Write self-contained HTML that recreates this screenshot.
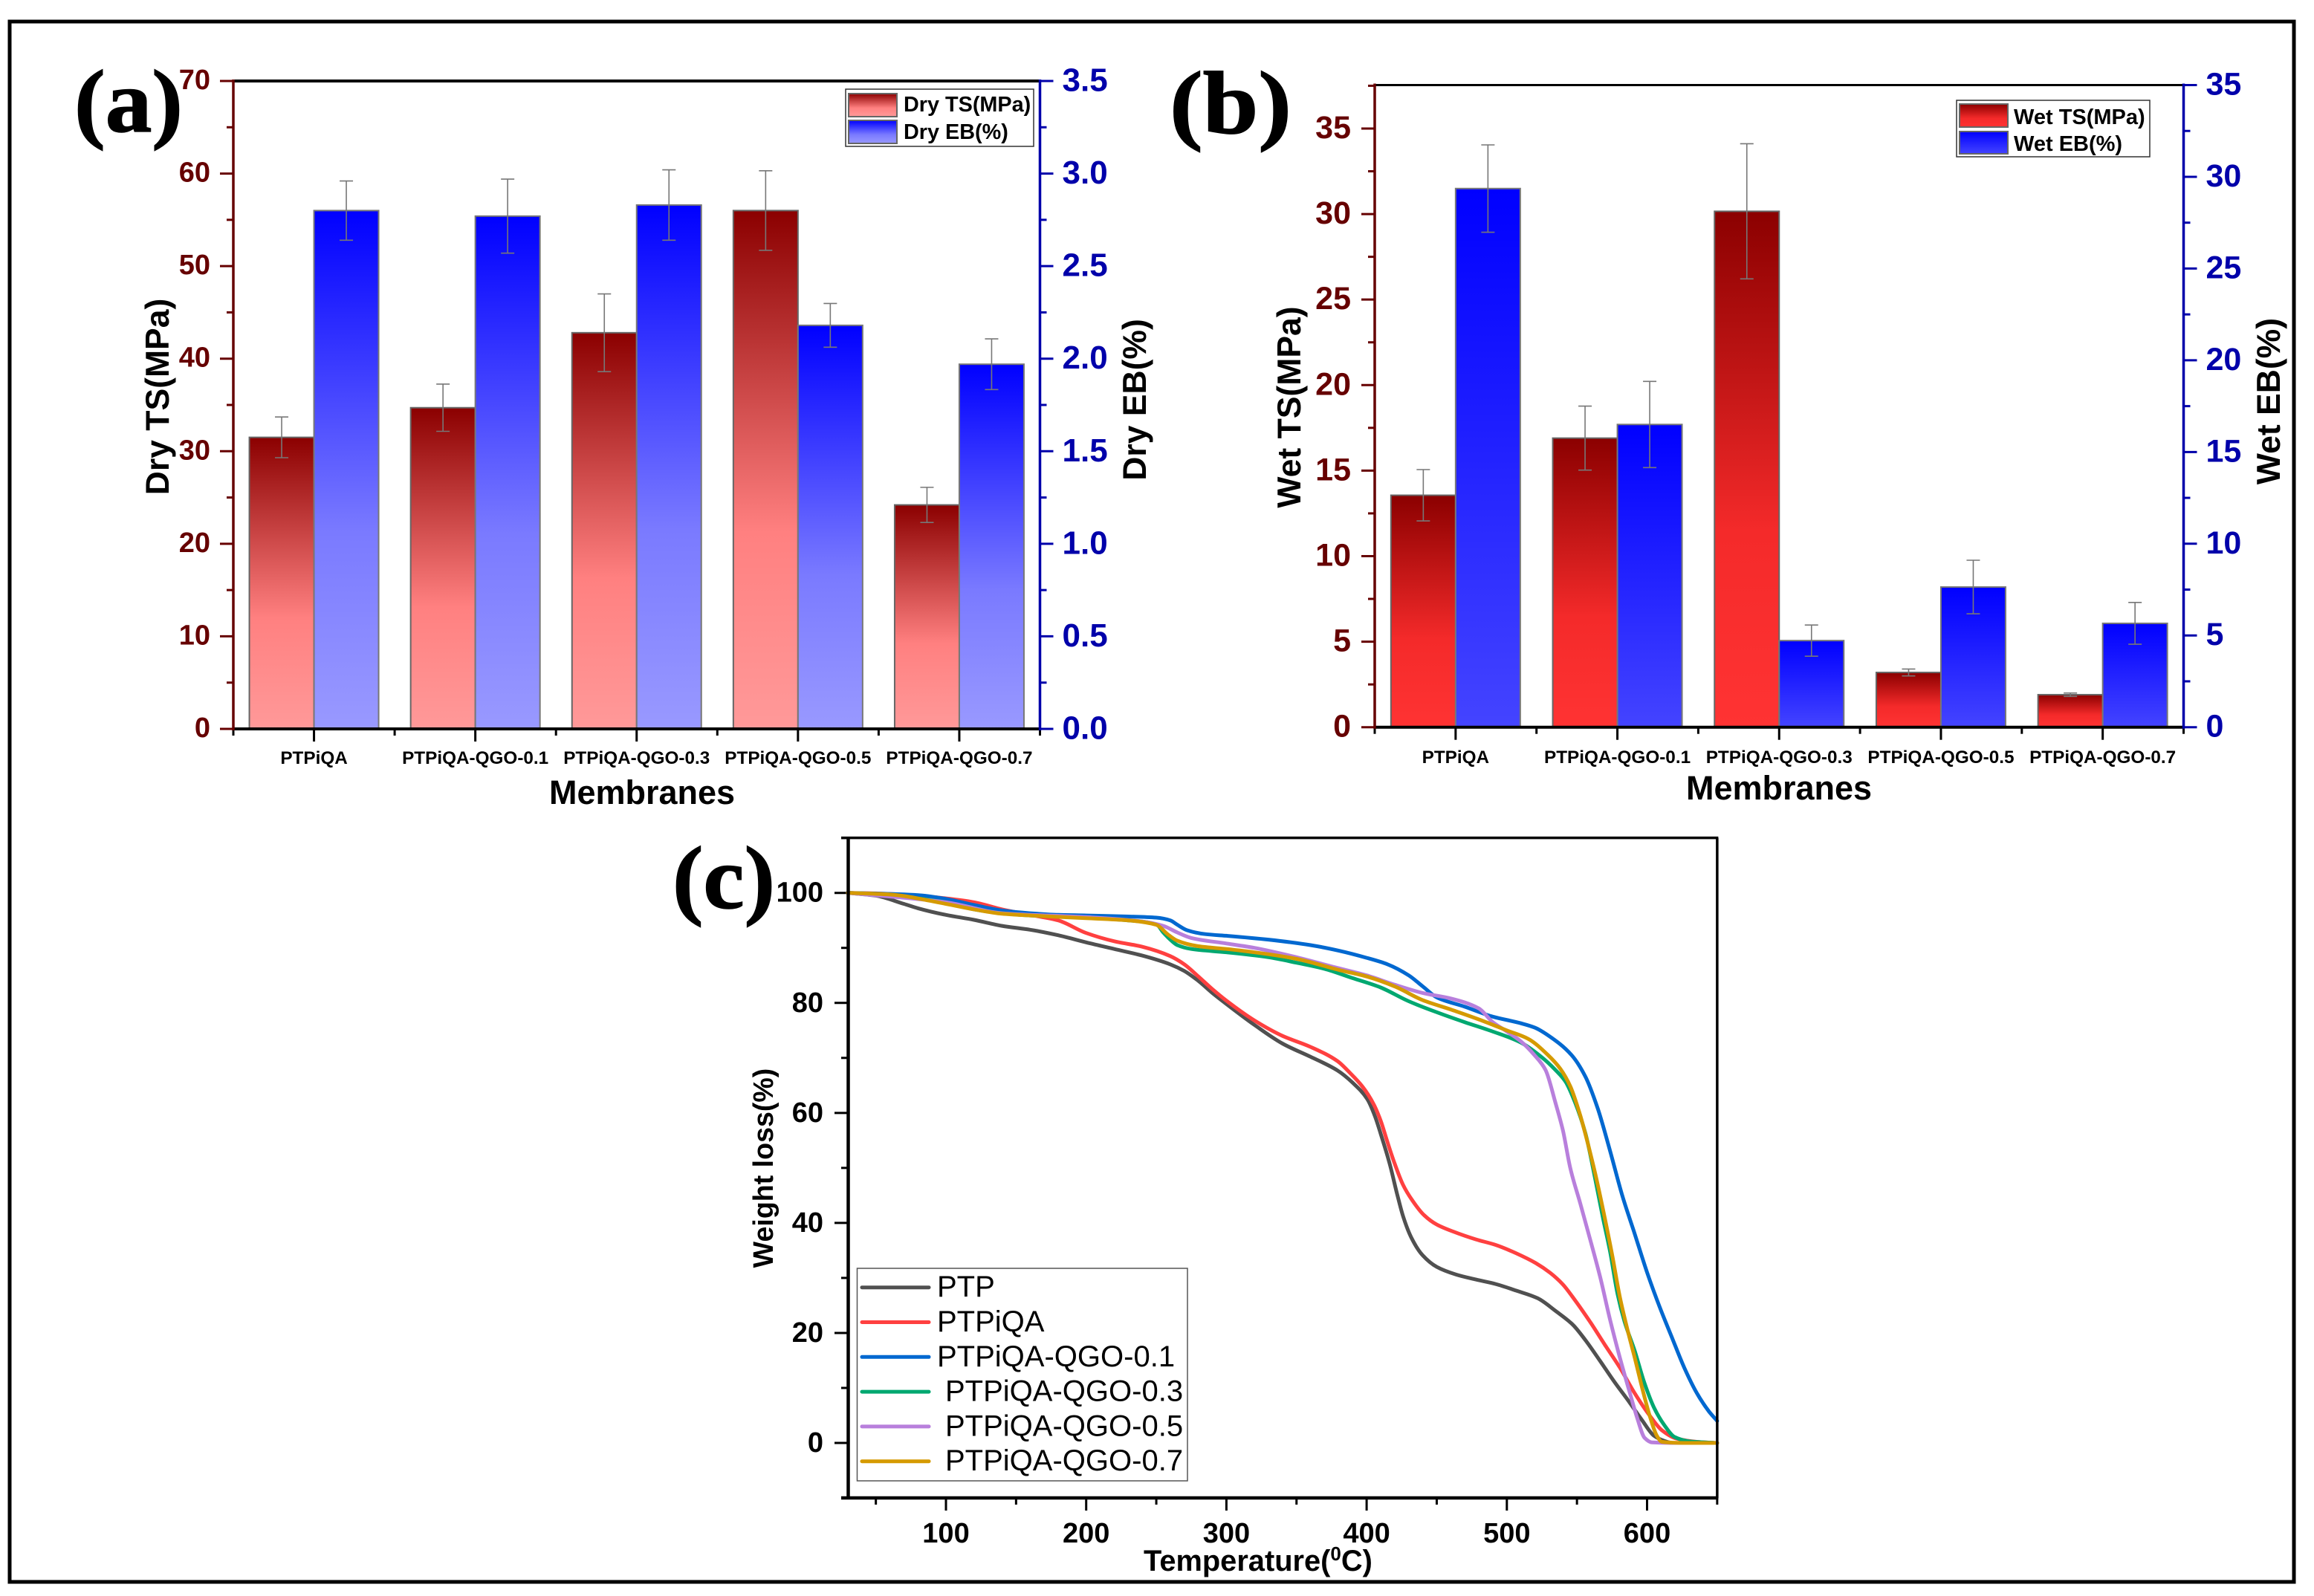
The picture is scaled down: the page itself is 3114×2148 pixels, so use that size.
<!DOCTYPE html>
<html lang="en">
<head>
<meta charset="utf-8">
<title>Membrane mechanical and thermal properties</title>
<style>
html,body{margin:0;padding:0;background:#fff;width:3114px;height:2148px;overflow:hidden}
svg{display:block}
text{font-family:"Liberation Sans",sans-serif}
.serif{font-family:"Liberation Serif",serif;font-weight:bold;font-size:120px;fill:#000;stroke:#000;stroke-width:1.5px}
.title{font-weight:bold;font-size:44.5px;fill:#000}
.leg{font-weight:bold;font-size:28.8px;fill:#000}
.legc{font-size:40px;fill:#000}
</style>
</head>
<body>
<svg id="figure" xmlns="http://www.w3.org/2000/svg" width="3114" height="2148" viewBox="0 0 3114 2148">
<defs>
<linearGradient id="gDryTs" x1="0" y1="0" x2="0" y2="1"><stop offset="0" stop-color="#8b0000"/><stop offset="0.62" stop-color="#ff8080"/><stop offset="1" stop-color="#ff9999"/></linearGradient>
<linearGradient id="gDryEb" x1="0" y1="0" x2="0" y2="1"><stop offset="0" stop-color="#0000ff"/><stop offset="0.62" stop-color="#7a7aff"/><stop offset="1" stop-color="#9999ff"/></linearGradient>
<linearGradient id="gWetTs" x1="0" y1="0" x2="0" y2="1"><stop offset="0" stop-color="#8b0000"/><stop offset="0.62" stop-color="#f42a2a"/><stop offset="1" stop-color="#ff3333"/></linearGradient>
<linearGradient id="gWetEb" x1="0" y1="0" x2="0" y2="1"><stop offset="0" stop-color="#0000ff"/><stop offset="1" stop-color="#4444ff"/></linearGradient>
</defs>
<rect x="13" y="29" width="3074" height="2100" fill="#fff" stroke="#000" stroke-width="5"/>

<text class="serif" x="100" y="177" textLength="146" lengthAdjust="spacingAndGlyphs">(a)</text>
<text class="serif" x="1574" y="179" textLength="164" lengthAdjust="spacingAndGlyphs">(b)</text>
<text class="serif" x="905" y="1222" textLength="138" lengthAdjust="spacingAndGlyphs">(c)</text>

<g id="panelA"></g>
<g id="panelB"></g>
<g id="panelC"></g>

<text class="title" text-anchor="middle" transform="translate(227 534) rotate(-90)">Dry TS(MPa)</text>
<text class="title" text-anchor="middle" transform="translate(1542 538) rotate(-90)">Dry EB(%)</text>
<text class="title" text-anchor="middle" x="864" y="1082" style="font-size:45px">Membranes</text>
<text class="title" text-anchor="middle" transform="translate(1750 548) rotate(-90)">Wet TS(MPa)</text>
<text class="title" text-anchor="middle" transform="translate(3068 540) rotate(-90)">Wet EB(%)</text>
<text class="title" text-anchor="middle" x="2394" y="1076" style="font-size:45px">Membranes</text>
<text class="title" text-anchor="middle" transform="translate(1040 1572) rotate(-90)" style="font-size:37.6px">Weight loss(%)</text>
<text class="title" x="1539" y="2114" style="font-size:39.8px">Temperature(<tspan font-size="26" dy="-14">0</tspan><tspan dy="14">C)</tspan></text>

<g>
<rect x="1138" y="120" width="253" height="77" fill="#fff" stroke="#333" stroke-width="1.5"/>
<rect x="1142" y="126" width="65" height="31" fill="url(#gDryTs)" stroke="#666" stroke-width="2"/>
<rect x="1142" y="162" width="65" height="31" fill="url(#gDryEb)" stroke="#666" stroke-width="2"/>
<text class="leg" x="1216" y="150">Dry TS(MPa)</text>
<text class="leg" x="1216" y="187">Dry EB(%)</text>
</g>
<g>
<rect x="2633" y="135" width="260" height="76" fill="#fff" stroke="#333" stroke-width="1.5"/>
<rect x="2637" y="140" width="65" height="31" fill="url(#gWetTs)" stroke="#666" stroke-width="2"/>
<rect x="2637" y="177" width="65" height="30" fill="url(#gWetEb)" stroke="#666" stroke-width="2"/>
<text class="leg" x="2710" y="167" style="font-size:29px">Wet TS(MPa)</text>
<text class="leg" x="2710" y="203" style="font-size:29px">Wet EB(%)</text>
</g>
<g id="legendC"></g>
</svg>

<script>
// ---- Panel (a) and (b) data ----
const membranes = ['PTPiQA', 'PTPiQA-QGO-0.1', 'PTPiQA-QGO-0.3', 'PTPiQA-QGO-0.5', 'PTPiQA-QGO-0.7'];
const dryTs = [31.5, 34.7, 42.8, 56, 24.2];
const dryTsErr = [2.2, 2.55, 4.2, 4.3, 1.9];
const dryEb = [2.8, 2.77, 2.83, 2.18, 1.97];
const dryEbErr = [0.16, 0.2, 0.19, 0.118, 0.137];
const dryTsTicks = ['0', '10', '20', '30', '40', '50', '60', '70'];
const dryEbTicks = ['0.0', '0.5', '1.0', '1.5', '2.0', '2.5', '3.0', '3.5'];
const wetTs = [13.56, 16.9, 30.16, 3.2, 1.9];
const wetTsErr = [1.5, 1.87, 3.95, 0.2, 0.1];
const wetEb = [29.36, 16.5, 4.72, 7.64, 5.66];
const wetEbErr = [2.38, 2.35, 0.85, 1.46, 1.14];
const wetTsTicks = ['0', '5', '10', '15', '20', '25', '30', '35'];
const wetEbTicks = ['0', '5', '10', '15', '20', '25', '30', '35'];

// ---- Panel (c) data ----
const tgaTempTicks = ['100', '200', '300', '400', '500', '600'];
const tgaWeightTicks = ['0', '20', '40', '60', '80', '100'];
const ptpT = [30,50,70,80,100,120,140,160,180,200,220,240,260,270,280,290,300,320,340,360,379.3,390,400.5,405.8,411,416.4,421.7,426,432.3,440,450,464,478,492,506.5,522,534.7,547,556,566.5,577,587.7,596.5,605,612,617.7,650];
const ptpW = [100,99.5,98,97.2,96,95.1,94,93.3,92.3,91,89.8,88.6,87,85.8,84,81.8,79.8,76,72.6,70.2,67.7,65.5,62.5,59.5,55.4,50.8,45.3,41.2,37.1,34.1,32,30.6,29.7,28.9,27.7,26.3,24,21.5,18.7,14.9,11,7.3,4.1,1.3,0.4,0,0];
const piqaT = [30,50,80,100,120,140,160,180,200,220,240,260,270,280,290,300,320,340,360,379.3,388,397,405,410,414.6,420,426,432.3,441,450,462,478,492,506.5,520.6,531,540,549,559.4,570,580.6,591,601.8,610.6,621,635.4,650];
const piqaW = [100,99.9,99.5,99,98.3,97,96,95,92.7,91.2,90.2,88.5,87,84.8,82.5,80.4,76.8,74,72,69.4,67.3,64.8,61.6,58.6,54.9,50.8,46.9,44.2,41.4,39.7,38.4,37,36,34.5,32.7,30.9,28.8,25.8,22,17.8,13.7,9.1,5,2.3,0.8,0.2,0];
const qgo01T = [30,80,100,120,140,160,180,200,230,250,260,265,272,285,300,330,360,380,400,415,430,440,450,470,490,510,520,530,546.2,556,564.7,573.6,582.4,591.2,600,609,617.7,626.5,635.4,644.2,650];
const qgo01W = [100,99.6,98.9,97.8,96.8,96.3,96,95.9,95.7,95.5,95,94.2,93.2,92.5,92.2,91.5,90.5,89.5,88.2,87,85,83,81,79.3,77.5,76.3,75.5,74,70.5,66.6,60.9,53.1,44.9,38,31,24.7,19.2,13.7,9.1,5.7,4];
const qgo03T = [30,60,80,100,120,140,160,200,230,250,255,260,265,275,300,330,350,370,390,410,430,450,470,490,510,524,534.7,541.8,548.8,556,563,568.3,573.6,579,584,591,598,605,612.4,619.5,630,650];
const qgo03W = [100,99.7,99,98.3,97,96.3,95.9,95.5,95,94.3,92.8,91.5,90.5,89.8,89.2,88.3,87.3,86.2,84.5,82.8,80.3,78.3,76.5,74.8,72.8,70.3,67.8,65.7,61.8,56.3,48,41.2,34.8,27,22,16.9,11,6.4,3.2,1.1,0.3,0];
const qgo05T = [30,100,140,200,240,255,265,275,300,320,350,380,400,420,440,460,480,490,500,510,519.7,527.6,534.7,540,545.3,552.4,559.4,566.5,573.6,580.6,587.7,593,598.3,603.6,617.7,650];
const qgo05W = [100,98.3,96.3,95.6,94.8,94,92.8,91.8,90.8,90,88.3,86.3,85,83.3,81.8,80.8,79,76.5,74.8,73,70.5,67.8,61.8,56.8,49.9,43.5,37,30.2,22.4,15.5,9.1,4.5,0.9,0.1,0,0];
const qgo07T = [30,60,100,120,140,160,200,230,250,258,265,280,300,320,350,380,400,420,440,460,480,500,515,529.4,538.2,545.3,552.4,557.7,563,570,575.3,580.6,586,591.2,596.5,601.8,607,610.6,626.5,650];
const qgo07W = [100,99.7,98,97,96.2,95.9,95.4,95,94.2,92.5,91.3,90.3,89.8,89.2,88,86,84.8,83,80.5,78.8,77,75,73.5,70.5,68,64.8,59.5,54.5,49,40.7,33.9,26.5,20.6,15.5,10,5,1.3,0.2,0,0];

const NS = 'http://www.w3.org/2000/svg';
function mk(tag, attrs, parent) {
  const el = document.createElementNS(NS, tag);
  for (const k in attrs) el.setAttribute(k, attrs[k]);
  parent.appendChild(el);
  return el;
}
function seg(parent, x1, y1, x2, y2, color, width, name) {
  const el = mk('line', {x1: x1, y1: y1, x2: x2, y2: y2, stroke: color, 'stroke-width': width}, parent);
  
  
  return el;
}
function label(parent, str, x, y, anchor, size, weight, color, name) {
  const el = mk('text', {x: x, y: y, 'text-anchor': anchor, 'font-size': size, 'font-weight': weight, fill: color}, parent);
  el.textContent = str;
  
  
  return el;
}

function drawErrorBar(g, x, yTop, yBot, name) {
  seg(g, x, yTop, x, yBot, '#777', 1.6, name);
  seg(g, x - 9, yTop, x + 9, yTop, '#777', 1.6, name + '-cap-top');
  seg(g, x - 9, yBot, x + 9, yBot, '#777', 1.6, name + '-cap-bottom');
}

function drawBarPanel(g, o) {
  const catW = (o.right - o.left) / membranes.length;
  const xCat = i => o.left + (i + 0.5) * catW;
  const yL = v => o.bottom - (v / o.leftMax) * (o.bottom - o.top);
  const yR = v => o.bottom - (v / o.rightMax) * (o.bottom - o.top);

  membranes.forEach(function (m, i) {
    const cx = xCat(i);
    const bar1 = mk('rect', {x: cx - 87, y: yL(o.ts[i]), width: 87, height: o.bottom - yL(o.ts[i]), fill: o.tsFill, stroke: '#666', 'stroke-width': 2}, g);
    
    
    const bar2 = mk('rect', {x: cx, y: yR(o.eb[i]), width: 87, height: o.bottom - yR(o.eb[i]), fill: o.ebFill, stroke: '#777', 'stroke-width': 2}, g);
    
    
  });
  membranes.forEach(function (m, i) {
    const cx = xCat(i);
    drawErrorBar(g, cx - 43.5, yL(o.ts[i] + o.tsErr[i]), yL(o.ts[i] - o.tsErr[i]), 'ts-error-bar');
    drawErrorBar(g, cx + 43.5, yR(o.eb[i] + o.ebErr[i]), yR(o.eb[i] - o.ebErr[i]), 'eb-error-bar');
  });

  // spines
  seg(g, o.left, o.top, o.right, o.top, '#000', o.topW, 'top-spine');
  seg(g, o.left, o.bottom, o.right, o.bottom, '#000', 4, 'bottom-spine');

  // x ticks and labels
  for (let i = 0; i <= membranes.length; i++) {
    seg(g, o.left + i * catW, o.bottom, o.left + i * catW, o.bottom + 9, '#000', 3, 'x-minor-tick');
  }
  membranes.forEach(function (m, i) {
    seg(g, xCat(i), o.bottom, xCat(i), o.bottom + 17, '#000', 3, 'x-major-tick');
    label(g, m, xCat(i), o.xLabelY, 'middle', 24.3, 'bold', '#000', 'x-tick-label');
  });

  // left axis
  const LC = '#660000';
  seg(g, o.left, o.top - 2, o.left, o.bottom + 2, LC, 3.5, 'left-axis-line');
  o.leftTicks.forEach(function (t, i) {
    const v = parseFloat(t);
    seg(g, o.left - 18, yL(v), o.left, yL(v), LC, 3, 'left-major-tick');
    label(g, t, o.left - o.leftGap, yL(v) + o.leftDy, 'end', o.leftFont, 'bold', LC, 'left-tick-label');
    const next = parseFloat(o.leftTicks[i + 1]);
    const mid = isNaN(next) ? v + (v - parseFloat(o.leftTicks[i - 1])) / 2 : (v + next) / 2;
    if (mid <= o.leftMax) seg(g, o.left - 9, yL(mid), o.left, yL(mid), LC, 3, 'left-minor-tick');
  });

  // right axis
  const RC = '#0000aa';
  seg(g, o.right, o.top - 2, o.right, o.bottom + 2, RC, 3.5, 'right-axis-line');
  o.rightTicks.forEach(function (t, i) {
    const v = parseFloat(t);
    seg(g, o.right, yR(v), o.right + 18, yR(v), RC, 3, 'right-major-tick');
    label(g, t, o.right + o.rightGap, yR(v) + o.rightDy, 'start', o.rightFont, 'bold', RC, 'right-tick-label');
    const next = parseFloat(o.rightTicks[i + 1]);
    if (!isNaN(next)) seg(g, o.right, yR((v + next) / 2), o.right + 9, yR((v + next) / 2), RC, 3, 'right-minor-tick');
  });
}

drawBarPanel(document.getElementById('panelA'), {
  left: 314, right: 1399.5, top: 109, bottom: 981,
  leftMax: 70, rightMax: 3.5, ts: dryTs, tsErr: dryTsErr, eb: dryEb, ebErr: dryEbErr,
  tsFill: 'url(#gDryTs)', ebFill: 'url(#gDryEb)', topW: 4,
  leftTicks: dryTsTicks, rightTicks: dryEbTicks,
  leftFont: 38, leftGap: 31, leftDy: 11, rightFont: 44, rightGap: 30, rightDy: 13.5, xLabelY: 1028
});
drawBarPanel(document.getElementById('panelB'), {
  left: 1850, right: 2938.5, top: 114.5, bottom: 978.7,
  leftMax: 37.54, rightMax: 35, ts: wetTs, tsErr: wetTsErr, eb: wetEb, ebErr: wetEbErr,
  tsFill: 'url(#gWetTs)', ebFill: 'url(#gWetEb)', topW: 3,
  leftTicks: wetTsTicks, rightTicks: wetEbTicks,
  leftFont: 43, leftGap: 32, leftDy: 13, rightFont: 43, rightGap: 30, rightDy: 13, xLabelY: 1027
});

// ---- Panel (c) ----
const panelC = document.getElementById('panelC');
const xT = t => 1273 + (t - 100) * 1.887;
const yW = w => 1942 - w * 7.403;

tgaTempTicks.forEach(function (t) {
  const v = parseFloat(t);
  seg(panelC, xT(v), yW(-10), xT(v), yW(-10) + 17, '#000', 3, 'temperature-major-tick');
  label(panelC, t, xT(v), 2076, 'middle', 38, 'bold', '#000', 'temperature-tick-label');
  seg(panelC, xT(v - 50), yW(-10), xT(v - 50), yW(-10) + 9, '#000', 3, 'temperature-minor-tick');
});
seg(panelC, xT(650), yW(-10), xT(650), yW(-10) + 9, '#000', 3, 'temperature-minor-tick');

tgaWeightTicks.forEach(function (t) {
  const v = parseFloat(t);
  seg(panelC, 1123, yW(v), 1141.5, yW(v), '#000', 3, 'weight-major-tick');
  label(panelC, t, 1108, yW(v) + 12, 'end', 38, 'bold', '#000', 'weight-tick-label');
  seg(panelC, 1132, yW(v - 10), 1141.5, yW(v - 10), '#000', 3, 'weight-minor-tick');
});
seg(panelC, 1132, yW(110), 1141.5, yW(110), '#000', 3, 'weight-minor-tick');

// Monotone cubic path through the read points, drawn in pixel space.
function smoothPath(xs, ys) {
  const n = xs.length;
  const h = [], s = [], m = new Array(n);
  for (let i = 0; i < n - 1; i++) {
    h[i] = xs[i + 1] - xs[i];
    s[i] = (ys[i + 1] - ys[i]) / h[i];
  }
  m[0] = s[0];
  m[n - 1] = s[n - 2];
  for (let i = 1; i < n - 1; i++) {
    if (s[i - 1] * s[i] <= 0) { m[i] = 0; continue; }
    const w1 = 2 * h[i] + h[i - 1], w2 = h[i] + 2 * h[i - 1];
    m[i] = (w1 + w2) / (w1 / s[i - 1] + w2 / s[i]);
  }
  let d = 'M' + xs[0].toFixed(1) + ' ' + ys[0].toFixed(1);
  for (let i = 0; i < n - 1; i++) {
    const c1x = xs[i] + h[i] / 3, c1y = ys[i] + m[i] * h[i] / 3;
    const c2x = xs[i + 1] - h[i] / 3, c2y = ys[i + 1] - m[i + 1] * h[i] / 3;
    d += 'C' + c1x.toFixed(1) + ' ' + c1y.toFixed(1) + ' ' + c2x.toFixed(1) + ' ' + c2y.toFixed(1) + ' ' + xs[i + 1].toFixed(1) + ' ' + ys[i + 1].toFixed(1);
  }
  return d;
}
function drawCurve(temps, weights, color, name) {
  const d = smoothPath(temps.map(xT), weights.map(yW));
  const el = mk('path', {d: d, fill: 'none', stroke: color, 'stroke-width': 5, 'stroke-linejoin': 'round', 'stroke-linecap': 'round'}, panelC);
  
  
}
drawCurve(ptpT, ptpW, '#505050', 'ptp-curve');
drawCurve(piqaT, piqaW, '#ff4040', 'ptpiqa-curve');
drawCurve(qgo01T, qgo01W, '#0068d0', 'ptpiqa-qgo-0-1-curve');
drawCurve(qgo03T, qgo03W, '#00a870', 'ptpiqa-qgo-0-3-curve');
drawCurve(qgo05T, qgo05W, '#b87fdc', 'ptpiqa-qgo-0-5-curve');
drawCurve(qgo07T, qgo07W, '#d59a00', 'ptpiqa-qgo-0-7-curve');

seg(panelC, 1132, yW(110), xT(650) + 1.5, yW(110), '#000', 3.5, 'top-spine');
seg(panelC, xT(650), yW(110), xT(650), yW(-10), '#000', 3.5, 'right-spine');
seg(panelC, 1141.5, yW(110) - 1, 1141.5, yW(-10) + 2, '#000', 4.5, 'left-spine');
seg(panelC, 1132, yW(-10), xT(650) + 1.5, yW(-10), '#000', 4.5, 'bottom-spine');

// ---- Panel (c) legend ----
const legendC = document.getElementById('legendC');
const legendNames = ['PTP', 'PTPiQA', 'PTPiQA-QGO-0.1', 'PTPiQA-QGO-0.3', 'PTPiQA-QGO-0.5', 'PTPiQA-QGO-0.7'];
const legendColors = ['#505050', '#ff4040', '#0068d0', '#00a870', '#b87fdc', '#d59a00'];
const legendBox = mk('rect', {x: 1153.5, y: 1707, width: 444.5, height: 286, fill: '#fff', stroke: '#555', 'stroke-width': 1.5}, legendC);


legendNames.forEach(function (n, i) {
  const ly = 1732.7 + i * 46.8;
  const ln = mk('line', {x1: 1160, y1: ly, x2: 1250, y2: ly, stroke: legendColors[i], 'stroke-width': 5, 'stroke-linecap': 'round'}, legendC);
  
  
  const tx = mk('text', {x: i < 3 ? 1261 : 1272, y: ly + 12.5, 'class': 'legc'}, legendC);
  tx.textContent = n;
  
  
});
</script>
</body>
</html>
